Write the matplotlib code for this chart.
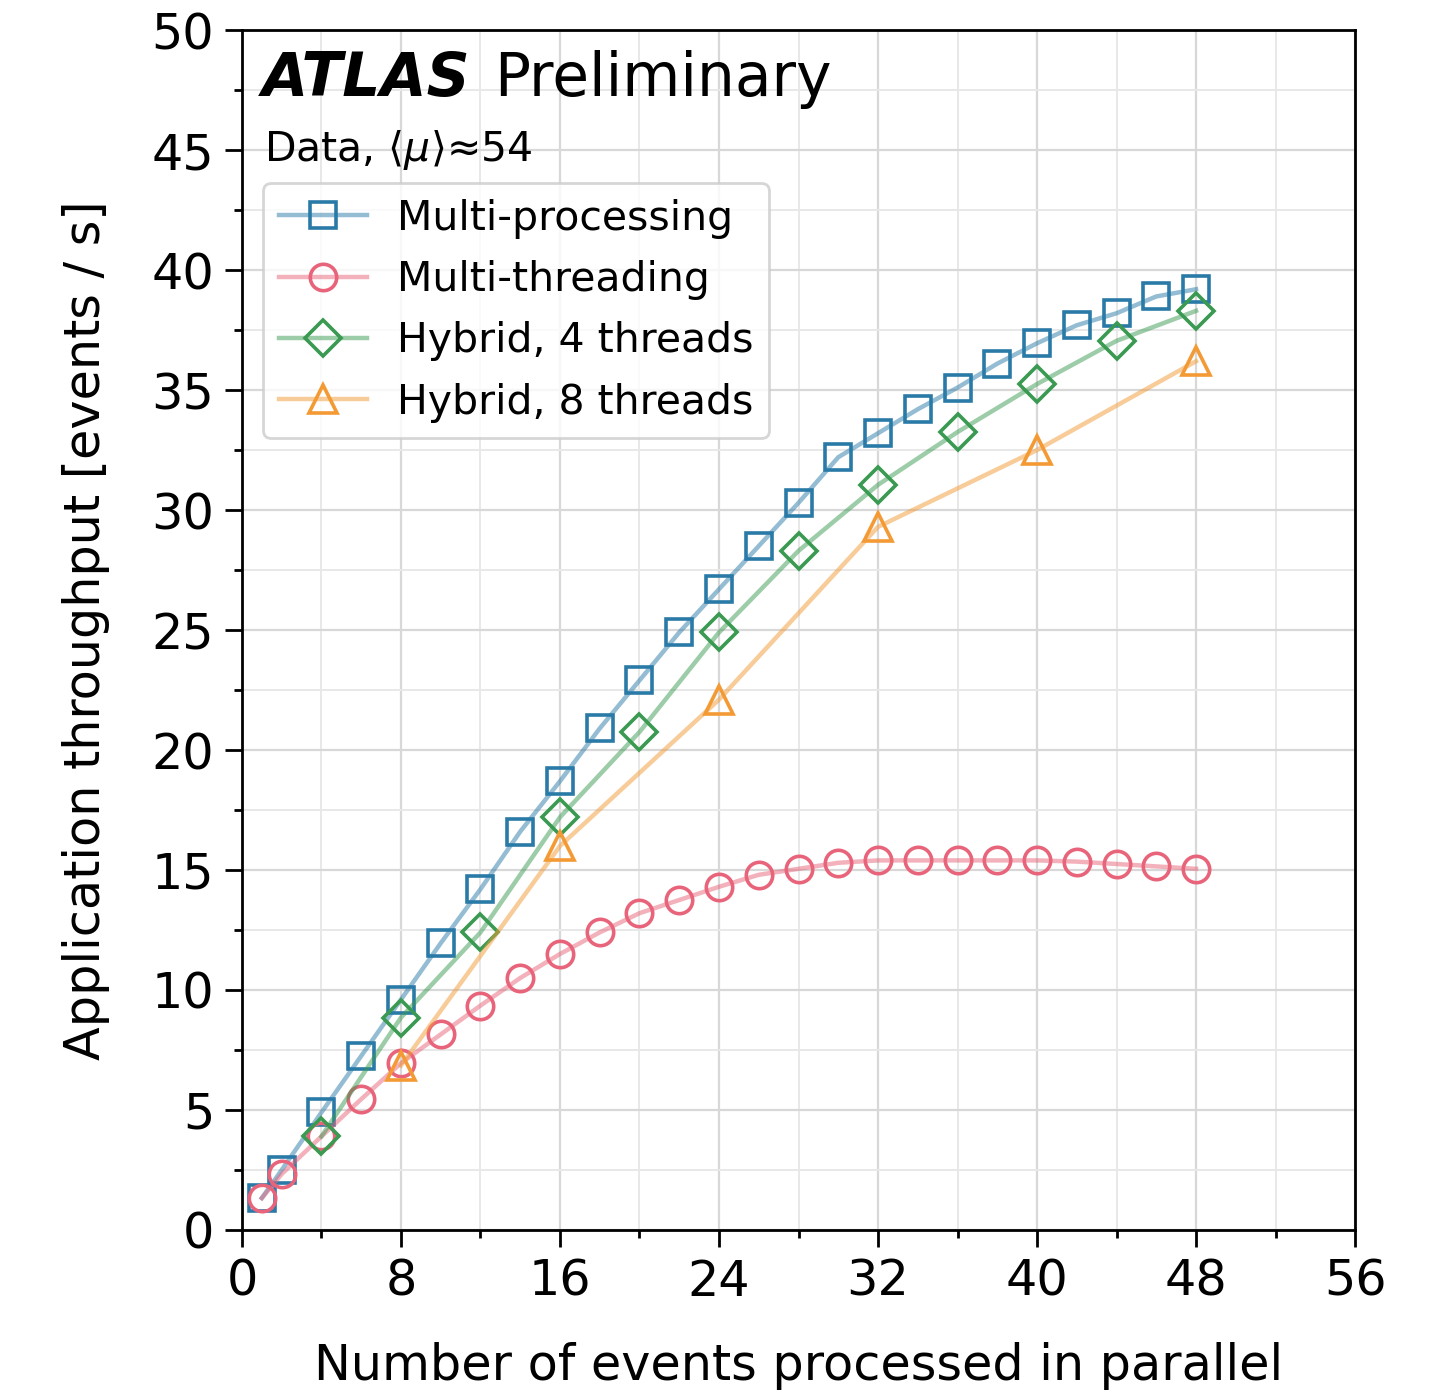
import matplotlib
matplotlib.use("Agg")
import matplotlib.pyplot as plt
from matplotlib.ticker import MultipleLocator
import numpy as np

# Data
mp_x = [1, 2, 4, 6, 8, 10, 12, 14, 16, 18, 20, 22, 24, 26, 28, 30, 32, 34, 36, 38, 40, 42, 44, 46, 48]
mp_y = [1.33, 2.5, 4.9, 7.25, 9.6, 11.95, 14.2, 16.6, 18.7, 20.9, 22.9, 24.9, 26.7, 28.5, 30.3, 32.2,
        33.2, 34.2, 35.1, 36.1, 36.95, 37.7, 38.2, 38.9, 39.2]
mt_x = [1, 2, 4, 6, 8, 10, 12, 14, 16, 18, 20, 22, 24, 26, 28, 30, 32, 34, 36, 38, 40, 42, 44, 46, 48]
mt_y = [1.33, 2.33, 3.9, 5.45, 6.95, 8.15, 9.35, 10.5, 11.5, 12.4, 13.2, 13.75, 14.3, 14.8, 15.05, 15.3,
        15.4, 15.4, 15.4, 15.4, 15.4, 15.35, 15.25, 15.15, 15.05]
h4_x = [4, 8, 12, 16, 20, 24, 28, 32, 36, 40, 44, 48]
h4_y = [3.9, 8.85, 12.4, 17.2, 20.75, 24.9, 28.3, 31.05, 33.25, 35.25, 37.05, 38.3]
h8_x = [8, 16, 24, 32, 40, 48]
h8_y = [6.85, 16.0, 22.1, 29.3, 32.5, 36.2]

labels = ["Multi-processing", "Multi-threading", "Hybrid, 4 threads", "Hybrid, 8 threads"]
colors = ["#2a7aa8", "#e8647a", "#3b9a52", "#f39a35"]
markers = ["s", "o", "D", "^"]
sizes = [19, 19, 18, 20]

fig = plt.figure(figsize=(14.35, 13.92), dpi=100)
ax = fig.add_axes([0.1686, 0.1164, 0.9443 - 0.1686, 0.9784 - 0.1164])

series = [(mp_x, mp_y), (mt_x, mt_y), (h4_x, h4_y), (h8_x, h8_y)]
for (xs, ys), lab, c, m, s in zip(series, labels, colors, markers, sizes):
    rgba = matplotlib.colors.to_rgba(c, 0.5)
    ax.plot(xs, ys, color=rgba, lw=3.2, marker=m, markersize=s, mfc="none",
            mec=c, mew=2.6, label=lab)

ax.set_xlim(0, 56)
ax.set_ylim(0, 50)
ax.xaxis.set_major_locator(MultipleLocator(8))
ax.xaxis.set_minor_locator(MultipleLocator(4))
ax.yaxis.set_major_locator(MultipleLocator(5))
ax.yaxis.set_minor_locator(MultipleLocator(2.5))
ax.grid(which="major", color="#d8d8d8", lw=1.6)
ax.grid(which="minor", color="#e8e8e8", lw=1.4)
ax.set_axisbelow(True)
ax.tick_params(which="major", length=12, width=2, labelsize=35.5, pad=8)
ax.tick_params(which="minor", length=6, width=2)
for sp in ax.spines.values():
    sp.set_linewidth(2)

ax.set_xlabel("Number of events processed in parallel", fontsize=35.5, labelpad=26)
ax.set_ylabel("Application throughput [events / s]", fontsize=35.5, labelpad=30)

ax.text(0.018, 0.983, "ATLAS", transform=ax.transAxes, fontsize=43, fontweight="bold",
        fontstyle="italic", va="top", ha="left")
ax.text(0.227, 0.983, "Preliminary", transform=ax.transAxes, fontsize=43, va="top", ha="left")
ax.text(0.02, 0.918, r"Data, $\langle\mu\rangle$≈54", transform=ax.transAxes, fontsize=29.5,
        va="top", ha="left")

leg = ax.legend(loc="upper left", bbox_to_anchor=(0.019, 0.8725), fontsize=29.5,
                frameon=True, framealpha=0.8, edgecolor="#cccccc", handlelength=2.15,
                borderpad=0.38, labelspacing=0.52, handletextpad=0.73, borderaxespad=0)
leg.get_frame().set_linewidth(2)

fig.savefig("out.png", dpi=100)
